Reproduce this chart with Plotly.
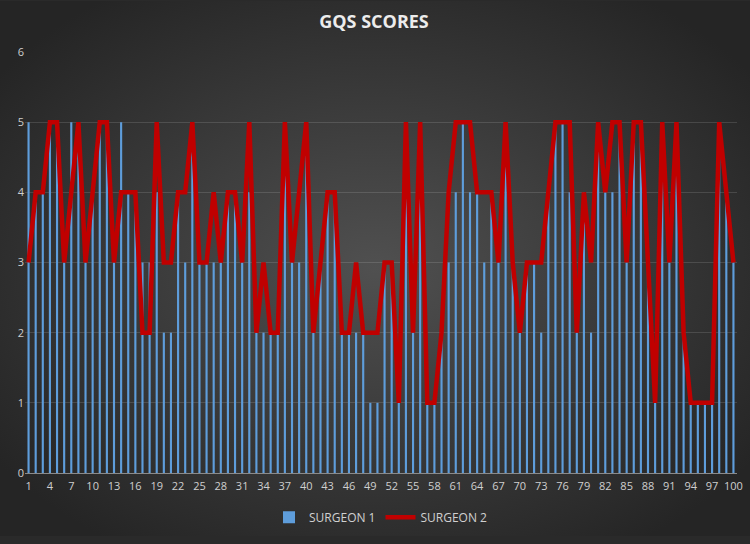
import base64
import plotly.graph_objects as go

# GQS scores per video
videos = list(range(1, 101))

surgeon_1 = [
    5, 4, 4, 5, 5, 3, 5, 5, 3, 4, 5, 5, 3, 5, 4, 4, 3, 3, 4, 2, 2, 4, 3, 5, 3,
    3, 3, 3, 4, 4, 3, 4, 2, 2, 2, 2, 5, 3, 3, 5, 2, 3, 4, 4, 2, 2, 2, 2, 1, 1,
    3, 3, 1, 5, 2, 5, 1, 1, 2, 3, 4, 5, 4, 4, 3, 4, 3, 5, 3, 2, 3, 3, 2, 4, 5,
    5, 4, 2, 4, 2, 5, 4, 4, 5, 3, 5, 5, 3, 1, 5, 3, 5, 2, 1, 1, 1, 1, 5, 4, 3,
]

surgeon_2 = [
    3, 4, 4, 5, 5, 3, 4, 5, 3, 4, 5, 5, 3, 4, 4, 4, 2, 2, 5, 3, 3, 4, 4, 5, 3,
    3, 4, 3, 4, 4, 3, 5, 2, 3, 2, 2, 5, 3, 4, 5, 2, 3, 4, 4, 2, 2, 3, 2, 2, 2,
    3, 3, 1, 5, 2, 5, 1, 1, 2, 4, 5, 5, 5, 4, 4, 4, 3, 5, 3, 2, 3, 3, 3, 4, 5,
    5, 5, 2, 4, 3, 5, 4, 5, 5, 3, 5, 5, 3, 1, 5, 3, 5, 2, 1, 1, 1, 1, 5, 4, 3,
]

x_ticks = list(range(1, 101, 3)) + [100]
y_ticks = [0, 1, 2, 3, 4, 5, 6]

W, H = 750, 544
L, R, T, B = 25, 13, 52, 64

# dark radial background (like the Excel chart style)
svg = (
    f'<svg xmlns="http://www.w3.org/2000/svg" width="{W}" height="{H}" preserveAspectRatio="none">'
    '<defs><radialGradient id="g" cx="50%" cy="50%" r="62%">'
    '<stop offset="0%" stop-color="#505050"/>'
    '<stop offset="100%" stop-color="#252525"/>'
    '</radialGradient></defs>'
    f'<rect x="0" y="0" width="{W}" height="{H}" fill="url(#g)"/></svg>'
)
bg_src = "data:image/svg+xml;base64," + base64.b64encode(svg.encode()).decode()

pw, ph = W - L - R, H - T - B

fig = go.Figure()

fig.add_trace(go.Bar(
    x=videos,
    y=surgeon_1,
    name="SURGEON 1",
    marker=dict(color="#5e9ddb", line=dict(width=0)),
))

fig.add_trace(go.Scatter(
    x=videos,
    y=surgeon_2,
    name="SURGEON 2",
    mode="lines",
    line=dict(color="#c00000", width=4.5),
))

fig.add_layout_image(dict(
    source=bg_src,
    xref="paper", yref="paper",
    x=-L / pw, y=1 + T / ph,
    sizex=W / pw, sizey=H / ph,
    sizing="stretch",
    layer="below",
))

fig.update_layout(
    width=W,
    height=H,
    margin=dict(l=L, r=R, t=T, b=B),
    paper_bgcolor="#2a2a2a",
    plot_bgcolor="rgba(0,0,0,0)",
    bargap=0.7,
    font=dict(family="Open Sans, Liberation Sans, sans-serif", color="#cfcfcf", size=11),
    title=dict(
        text="<b>GQS SCORES</b>",
        x=374 / W, xanchor="center",
        y=1 - 22 / H, yanchor="middle",
        font=dict(size=18, color="#ececec"),
    ),
    xaxis=dict(
        range=[0.5, 100.5],
        tickmode="array",
        tickvals=x_ticks,
        ticktext=[str(v) for v in x_ticks],
        tickangle=0,
        showgrid=False,
        showline=True,
        linecolor="#8a8a8a",
        linewidth=1,
        ticks="",
        ticklabelstandoff=3,
        zeroline=False,
        automargin=False,
    ),
    yaxis=dict(
        range=[0, 6],
        tickvals=y_ticks,
        showgrid=True,
        gridcolor="rgba(255,255,255,0.13)",
        gridwidth=1,
        zeroline=False,
        ticks="",
        automargin=False,
    ),
    legend=dict(
        orientation="h",
        x=0.5, xanchor="center",
        y=-0.105, yanchor="middle",
        font=dict(size=12, color="#d0d0d0"),
        bgcolor="rgba(0,0,0,0)",
    ),
)

# drop the page's default body margin so the chart sits at 0,0
fig.write_html(
    "out.html",
    config={"displayModeBar": False},
    post_script="document.body.style.margin='0';",
)
